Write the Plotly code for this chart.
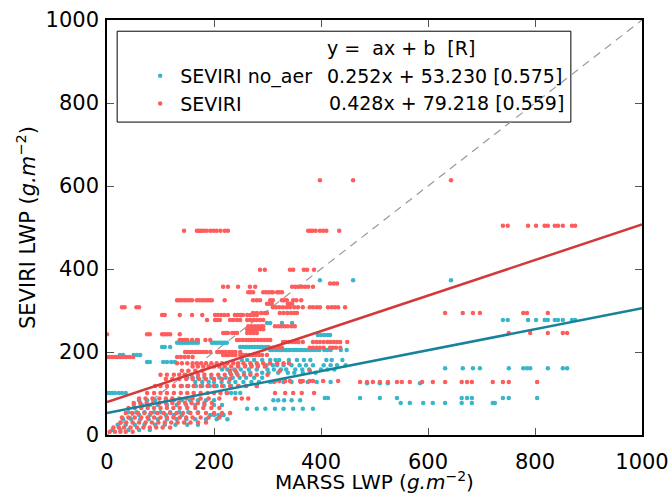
import plotly.graph_objects as go

# SEVIRI no_aer (teal): horizontal streaks, y level -> MARSS x values
teal_levels = [373, 277, 270, 241, 222, 212, 205, 193, 181, 176, 168, 161, 158, 150,
               138, 128, 125, 118, 101, 89, 84, 77, 72, 63, 55, 48, 38, 25, 12]
teal_xs = [
    [398, 460, 643],
    [740, 749, 787, 802, 818, 824, 837, 843, 852, 869, 875],
    [299, 305, 327, 346],
    [394, 400, 406, 412, 417],
    [131, 136, 141, 146, 150, 155, 160, 165, 170, 196, 200, 204, 208, 212, 216, 220, 224],
    [103, 108, 118, 249, 254, 258, 262, 266, 271, 276, 281, 286, 290, 296, 301],
    [305, 310, 315, 320, 325, 330, 335, 340, 345, 350, 355, 360, 365, 370, 375, 380, 386,
     392, 397, 406, 412, 418, 437, 448],
    [24, 30, 50, 56, 62],
    [252, 262, 275, 290, 305, 315, 322, 340, 355, 368, 380, 410, 420, 440],
    [75, 80, 105, 112, 120, 127],
    [245, 258, 270, 282, 298, 310, 318, 330, 345, 360, 372, 385, 405, 418, 430, 446],
    [632, 665, 684, 697, 751, 778, 785, 791, 824, 852, 860],
    [215, 225, 238, 250, 265, 280, 300, 312, 325, 335, 352, 365, 378, 400, 412, 425],
    [230, 242, 256, 268, 290, 302, 320, 338, 350, 366, 390],
    [150, 160, 170, 182, 195, 210, 222, 235, 248, 260, 275, 290],
    [165, 178, 190, 200, 214, 228, 240, 255, 270, 284, 305, 312, 330, 345, 362, 375, 392, 418],
    [486, 510, 525, 585],
    [140, 152, 166, 178, 192, 205, 218, 232, 246, 260, 280],
    [0, 5, 10, 15, 22, 28, 35, 224, 232, 240, 249],
    [407, 413, 473, 510, 542, 663, 673, 682, 740, 751, 804],
    [60, 75, 90, 110, 125, 140, 155, 170, 185, 200, 311, 320, 331, 345, 361],
    [549, 566, 591, 609, 632, 663, 682, 721, 725],
    [50, 65, 80, 95, 112, 130, 148, 165, 182, 200, 215],
    [262, 280, 296, 314, 330, 348, 366, 385],
    [40, 55, 70, 88, 100, 118, 135, 152, 170],
    [60, 80, 110, 125, 140, 193, 200, 208, 215, 218],
    [30, 45, 62, 78, 95, 112, 130, 148, 165, 185, 205, 225],
    [20, 35, 52, 70, 90, 108, 128, 150, 170],
    [10, 25, 40, 60, 80],
]

# SEVIRI (red)
red_levels = [614, 504, 492, 398, 365, 357, 344, 325, 316, 308, 294, 289, 277, 262, 255,
              246, 243, 229, 224, 210, 200, 193, 188, 173, 165, 155, 145, 135, 130, 128,
              118, 101, 88, 77, 65, 53, 42, 30, 18, 8]
red_xs = [
    [398, 460, 643],
    [740, 749, 787, 802, 818, 824, 837, 843, 852, 869, 875],
    [144, 168, 172, 176, 180, 186, 193, 199, 205, 212, 220, 226, 376, 380, 384, 390, 398,
     404, 410, 434],
    [286, 295, 342, 348, 368, 374, 387],
    [417, 424, 430],
    [217, 226, 245, 267, 277, 346, 352, 358, 364, 370, 376, 385],
    [264, 268, 273, 292, 297, 302, 307, 310, 318, 322, 327],
    [131, 135, 140, 145, 150, 155, 159, 168, 173, 178, 183, 188, 192, 196, 220, 273, 280,
     286, 305, 310, 327, 331, 336, 348, 354, 363],
    [299, 304, 308, 338, 342, 346],
    [28, 33, 55, 60, 310, 316, 322, 329, 336, 342, 350, 357, 366, 379, 385, 392, 398, 413,
     420, 426, 432, 445],
    [273, 280, 288, 295, 299, 323, 330, 337, 344, 350, 355, 632, 665, 684, 697, 778, 785, 824],
    [103, 108, 136, 159, 178, 202, 207, 213, 219, 226, 239, 244, 249, 254, 262, 268, 274, 280],
    [187, 202, 206, 211, 230, 236, 243, 249, 262, 268, 274, 280, 286, 292],
    [264, 270, 276, 282, 288, 292, 314, 320, 326, 332, 338, 345, 351],
    [262, 268, 274, 280, 286, 292],
    [217, 222, 226, 234, 238, 243, 262, 268, 274, 280, 751, 791, 824, 852, 860],
    [0, 75, 80, 103, 108, 113, 118, 136],
    [136, 140, 145, 150, 159, 168, 170, 184, 193, 243, 248, 254, 260, 265, 270, 276, 282,
     288, 294, 300, 305],
    [329, 334, 340, 346, 352, 358, 366, 385, 392, 398, 405, 412, 418, 424, 430, 436, 449],
    [305, 310, 315, 320, 327, 379, 385, 392, 398, 405, 417, 422, 428, 436],
    [146, 150, 155, 160, 165, 170, 174, 180, 186, 193, 206, 211, 216, 222, 228, 234, 240, 249],
    [217, 222, 228, 234, 240, 249, 254, 260, 266, 272, 278, 284, 290, 299],
    [0, 5, 10, 15, 20, 25, 30, 36, 42, 49, 131, 138, 145, 152, 160],
    [131, 140, 150, 160, 168, 176, 185, 195, 205, 215, 225, 236, 245, 255, 268, 280, 292,
     305, 318, 330, 340],
    [160, 170, 180, 190, 200, 210, 220, 232, 245, 258, 270, 282, 295],
    [140, 152, 165, 178, 230, 240, 323, 379],
    [100, 112, 125, 135, 145, 158, 170, 182, 195, 208, 220, 232, 244, 256, 268, 280, 300],
    [110, 122, 135, 148, 160, 172, 185, 200, 215, 230],
    [314, 322, 333, 342, 361, 366, 379, 385, 404, 432],
    [473, 486, 497, 510, 525, 542, 551, 566, 589, 609, 632, 663, 673, 682, 721, 740, 751, 804],
    [90, 100, 112, 125, 138, 150, 162, 175, 188, 200, 215, 230, 245, 260, 280],
    [75, 88, 100, 112, 125, 138, 150, 162, 175, 188, 200, 212, 224, 314, 333, 348, 364, 387],
    [60, 72, 85, 98, 110, 122, 135, 148, 160, 175, 190, 210, 240, 252, 264],
    [50, 62, 74, 86, 98, 110, 122, 134, 146, 158, 170, 182, 196],
    [40, 52, 64, 76, 88, 100, 112, 124, 136, 150, 165, 180, 195, 210],
    [35, 47, 58, 70, 82, 94, 106, 118, 130, 142, 156, 170, 185, 200, 215, 230],
    [28, 40, 52, 64, 76, 88, 100, 112, 124, 136, 148, 160, 175, 190, 210],
    [25, 36, 48, 60, 72, 84, 96, 108, 120, 132, 144, 156, 170, 185],
    [12, 22, 32, 44, 56, 68, 80, 92, 104, 118],
    [5, 15, 25, 35, 48],
]

# fit coefficients from the legend: slope, intercept, R
teal_fit = (0.252, 53.230, 0.575)
red_fit = (0.428, 79.218, 0.559)
axis_range = [0, 1000]

FONT = "DejaVu Sans"
TEAL_PT, TEAL_LN = "#38b6ca", "#16839a"
RED_PT, RED_LN = "#ff5c5c", "#d23a3a"


def flatten(levels, xs):
    px, py = [], []
    for y, row in zip(levels, xs):
        for x in row:
            px.append(x)
            py.append(y)
    return px, py


tx, ty = flatten(teal_levels, teal_xs)
rx, ry = flatten(red_levels, red_xs)

fig = go.Figure()
fig.add_trace(go.Scatter(x=axis_range, y=axis_range, mode="lines", showlegend=False,
                         line=dict(color="#999999", width=1.2, dash="8px,6px")))
fig.add_trace(go.Scatter(x=tx, y=ty, mode="markers", name="SEVIRI no_aer", legendgroup="a",
                         marker=dict(color=TEAL_PT, size=4.5, line=dict(width=0))))
fig.add_trace(go.Scatter(x=rx, y=ry, mode="markers", name="SEVIRI", legendgroup="b",
                         marker=dict(color=RED_PT, size=4.5, line=dict(width=0))))

for (a, b, r), col in [(teal_fit, TEAL_LN), (red_fit, RED_LN)]:
    fig.add_trace(go.Scatter(x=axis_range, y=[a * v + b for v in axis_range], mode="lines",
                             showlegend=False, line=dict(color=col, width=2.5)))

# legend frame and equation column
fig.add_shape(type="rect", xref="paper", yref="paper", x0=0.019, x1=0.867, y0=0.754, y1=0.973,
              line=dict(color="black", width=1), fillcolor="white", layer="below")
nb = "\u00a0"
fig.add_annotation(text=f"y ={nb}{nb}ax + b{nb}{nb}[R]", x=0.407, y=0.933)
for (a, b, r), yy, xx in [(teal_fit, 0.865, 0.407), (red_fit, 0.800, 0.411)]:
    fig.add_annotation(text=f"{a:.3f}x + {b:.3f} [{r:.3f}]", x=xx, y=yy)
fig.update_annotations(xref="paper", yref="paper", xanchor="left", yanchor="middle",
                       showarrow=False, font=dict(family=FONT, size=19, color="black"))
# x axis title placed by hand
fig.add_annotation(text="MARSS LWP (<i>g.m</i><sup>−2</sup>)", xref="paper", yref="paper",
                   x=0.5, y=-0.11, xanchor="center", yanchor="middle", showarrow=False,
                   font=dict(family=FONT, size=20, color="black"))

axis = dict(range=axis_range, tickvals=[0, 200, 400, 600, 800, 1000], ticks="inside",
            ticklen=7, tickwidth=1, tickcolor="#555", mirror="allticks", showline=True,
            linecolor="black", linewidth=1.5, showgrid=False, zeroline=False, automargin=False,
            tickfont=dict(family=FONT, size=21, color="black"),
            title_font=dict(family=FONT, size=21, color="black"))
fig.update_xaxes(**axis, ticklabelstandoff=7)
fig.update_yaxes(**axis, title_text="SEVIRI LWP (<i>g.m</i><sup>−2</sup>)", title_standoff=4,
                 ticklabelstandoff=2)

fig.update_layout(
    width=672, height=497,
    margin=dict(l=107, r=30, t=20, b=62),
    plot_bgcolor="white", paper_bgcolor="white",
    font=dict(family=FONT, color="black"),
    legend=dict(x=0.062, y=0.911, xanchor="left", yanchor="top", bgcolor="rgba(0,0,0,0)",
                font=dict(family=FONT, size=19), tracegroupgap=0, itemsizing="trace"),
)

# drop the default page margin so the figure sits at the window origin
fig.write_html("out.html", config={"displayModeBar": False},
               post_script="document.body.style.margin='0';")
